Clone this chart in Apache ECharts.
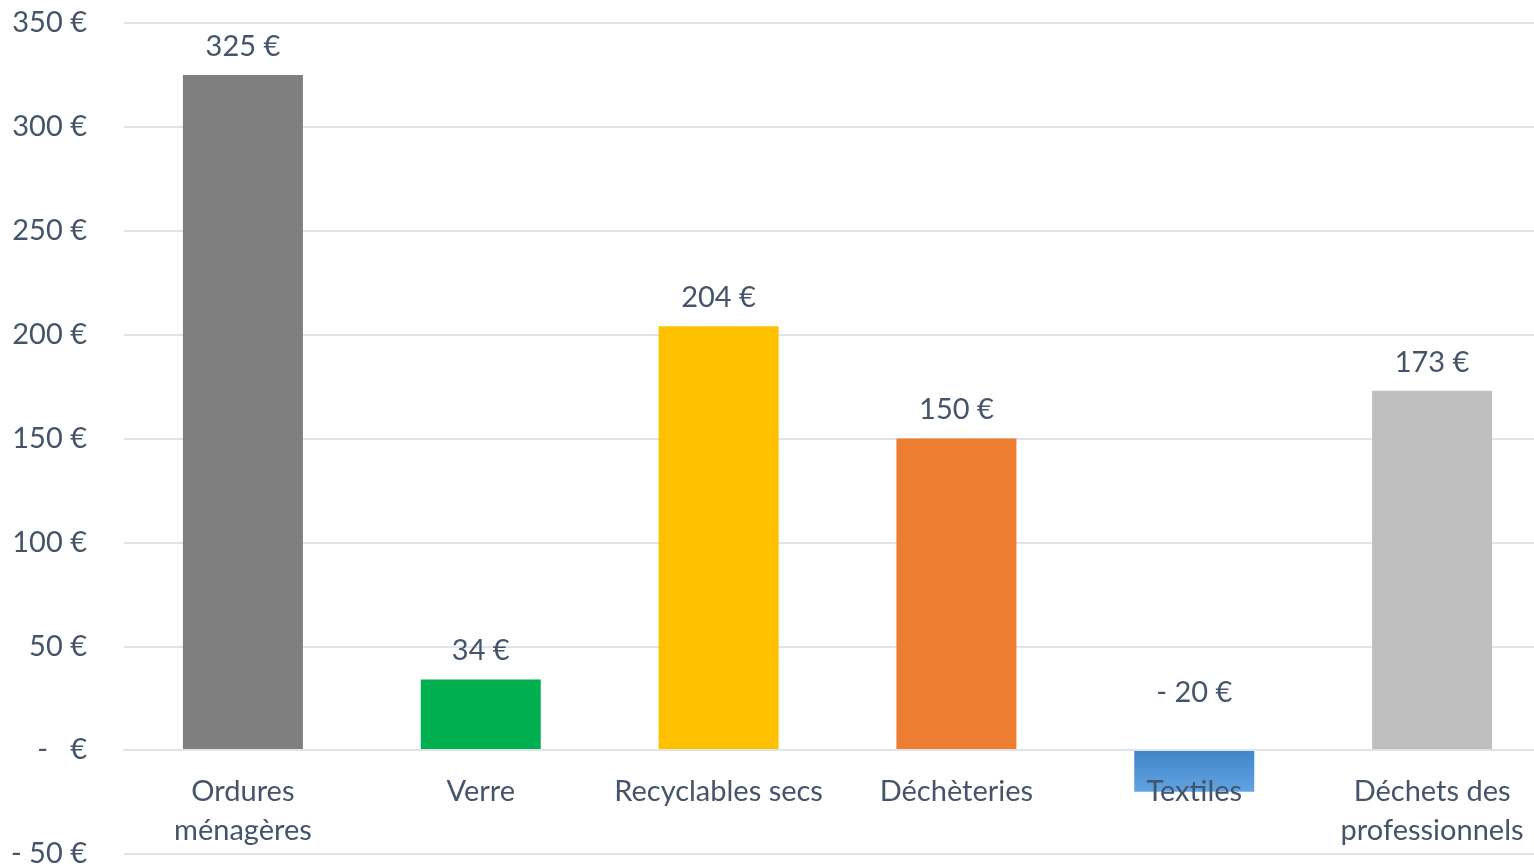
<!DOCTYPE html>
<html>
<head>
<meta charset="utf-8">
<script src="https://cdn.jsdelivr.net/npm/echarts@6/dist/echarts.min.js"></script>
<style>
  html, body { margin: 0; padding: 0; background: #fff; }
  #chart { width: 1534px; height: 866px; }
</style>
</head>
<body>
<div id="chart"></div>
<script>
const categories = ["Ordures\nménagères", "Verre", "Recyclables secs", "Déchèteries", "Textiles", "Déchets des\nprofessionnels"];
const values = [325, 34, 204, 150, -20, 173];
const bar_colors = ["#7f7f7f", "#00b050", "#ffc000", "#ed7d31", "textile", "#bfbfbf"];

const text_color = "#44546a";
const font = "Lato, 'Open Sans', sans-serif";

function euro(v) {
  if (v === 0) return "-   €";
  if (v < 0) return "- " + Math.abs(v) + " €";
  return v + " €";
}

const textile_fill = new echarts.graphic.LinearGradient(0, 0, 0, 1, [
  { offset: 0, color: "#3f85c8" },
  { offset: 1, color: "#62a3e2" }
]);

const bar_data = values.map((v, i) => {
  let item = {
    value: v,
    itemStyle: { color: bar_colors[i] === "textile" ? textile_fill : bar_colors[i] }
  };
  if (v < 0) {
    item.label = { position: "top", offset: [0, -29] };
  }
  return item;
});

// plot is 831px tall for 400 units, zero sits 50 units above the bottom
const zero_offset = -831 / 8;

let chart = echarts.init(document.getElementById("chart"));
chart.setOption({
  animation: false,
  backgroundColor: "#ffffff",
  grid: {
    left: 124,
    top: 23,
    width: 1427,
    height: 831,
    containLabel: false,
    outerBoundsMode: "none"
  },
  xAxis: {
    type: "category",
    data: categories,
    z: 10,
    offset: zero_offset,
    axisLine: { show: true, onZero: false, lineStyle: { color: "#dfe3ea", width: 2 } },
    axisTick: { show: false },
    axisLabel: {
      interval: 0,
      margin: 22,
      color: text_color,
      fontFamily: font,
      fontSize: 29,
      lineHeight: 39
    }
  },
  yAxis: {
    type: "value",
    min: -50,
    max: 350,
    interval: 50,
    axisLine: { show: false },
    axisTick: { show: false },
    splitLine: { lineStyle: { color: "#dfe3ea", width: 2 } },
    axisLabel: {
      margin: 37,
      color: text_color,
      fontFamily: font,
      fontSize: 29,
      formatter: euro
    }
  },
  series: [
    {
      type: "bar",
      data: bar_data,
      barWidth: 120,
      label: {
        show: true,
        position: "top",
        distance: 14,
        color: text_color,
        fontFamily: font,
        fontSize: 29,
        formatter: p => euro(p.value)
      }
    }
  ]
});
</script>
</body>
</html>
